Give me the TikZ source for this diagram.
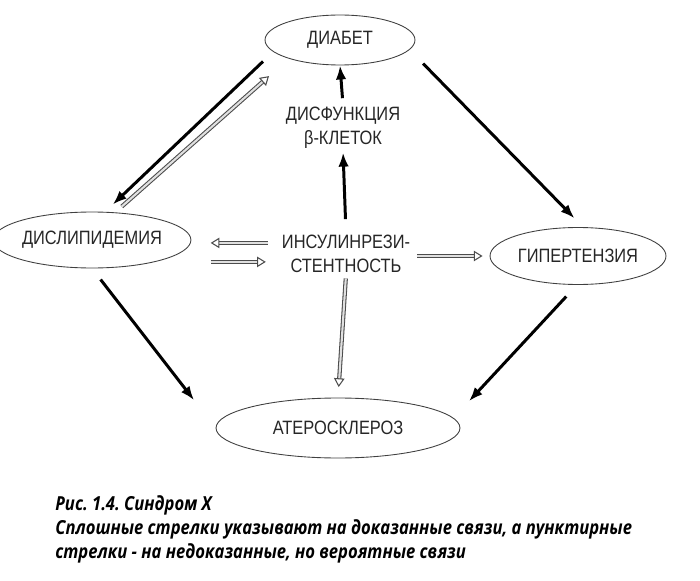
\documentclass[tikz,border=0pt]{standalone}
\usepackage{fontspec}
\setmainfont{Liberation Sans}[FakeStretch=0.85]
\newfontfamily\capfont{Open Sans}[FakeStretch=0.86]
\usetikzlibrary{arrows.meta,shapes.geometric}

\tikzset{
  bubble/.style={ellipse, draw=black!75, line width=0.5pt, inner sep=0pt, text=black!85},
  term/.style={align=center, inner sep=1pt, text=black!85},
  proven/.style={line width=1.7pt, -{Latex[length=8pt,width=6pt]}},
  likely/.style={draw=black!70, line width=0.6pt, double=black!12, double distance=1.2pt,
    -{Triangle[open,length=5pt,width=6pt]}},
}

\begin{document}
\frenchspacing
\begin{tikzpicture}[x=0.02cm, y=-0.02cm, font=\fontsize{11}{13.6}\selectfont]
		%%%%% START %%%%%
		
		\useasboundingbox (0, 0) rectangle (700, 581);
		
		\node[bubble, minimum width=3cm, minimum height=1cm] (diab) at (340, 40) {ДИАБЕТ};
		\node[bubble, minimum width=3.52cm, minimum height=1.12cm] (dysl) at (92, 240) {ДИСЛИПИДЕМИЯ};
		\node[bubble, minimum width=3.52cm, minimum height=1.14cm] (hyper) at (578, 256) {ГИПЕРТЕНЗИЯ};
		\node[bubble, minimum width=4.88cm, minimum height=1.2cm] (ather) at (338, 428) {АТЕРОСКЛЕРОЗ};
		
		\node[term] (dysf) at (343, 128) {ДИСФУНКЦИЯ\\β-КЛЕТОК};
		\node[term] (insul) at (346, 254) {ИНСУЛИНРЕЗИ-\\СТЕНТНОСТЬ};
		
		\coordinate (insul up) at ([yshift=6.3pt]insul.west);
		\coordinate (insul lo) at ([yshift=-4.5pt]insul.west);
		\coordinate (dysl up) at (insul up -| dysl.east);
		\coordinate (dysl lo) at (insul lo -| dysl.east);
		
		\draw[proven, shorten <=4pt] (dysf.north) -- (diab.south);
		\draw[proven, shorten <=8pt, shorten >=1pt] (insul.north) -- (dysf.south);
		
		\draw[proven, shorten <=8pt, shorten >=6pt] (diab.190) -- (dysl.65);
		\draw[likely, shorten <=5pt, shorten >=15pt] (dysl.50) -- (diab.200);
		
		\draw[proven, shorten <=11pt, shorten >=7pt] (diab.-8) -- (hyper.80);
		\draw[proven, shorten <=8pt, shorten >=20pt] (dysl.south) -- (ather.west);
		\draw[proven, shorten <=9pt, shorten >=13pt] (hyper.-92) -- (ather.5);
		
		\draw[likely, shorten <=2pt, shorten >=6pt] (insul.south) -- (ather.north);
		\draw[likely, shorten <=7pt, shorten >=11pt] (insul up) -- (dysl up);
		\draw[likely, shorten <=11pt, shorten >=8pt] (dysl lo) -- (insul lo);
		\draw[likely, shorten <=3pt, shorten >=4pt] (insul.east |- hyper.west) -- (hyper.west);
		
		\node[anchor=north west, align=left, inner sep=0pt,
		  font=\capfont\bfseries\itshape\fontsize{11}{13.6}\selectfont] (cap) at (55, 495)
		  {Рис. 1.4. Синдром X\\Сплошные стрелки указывают на доказанные связи, а пунктирные\\стрелки - на недоказанные, но вероятные связи};
		
		%%%%% END %%%%%
\end{tikzpicture}
\end{document}
